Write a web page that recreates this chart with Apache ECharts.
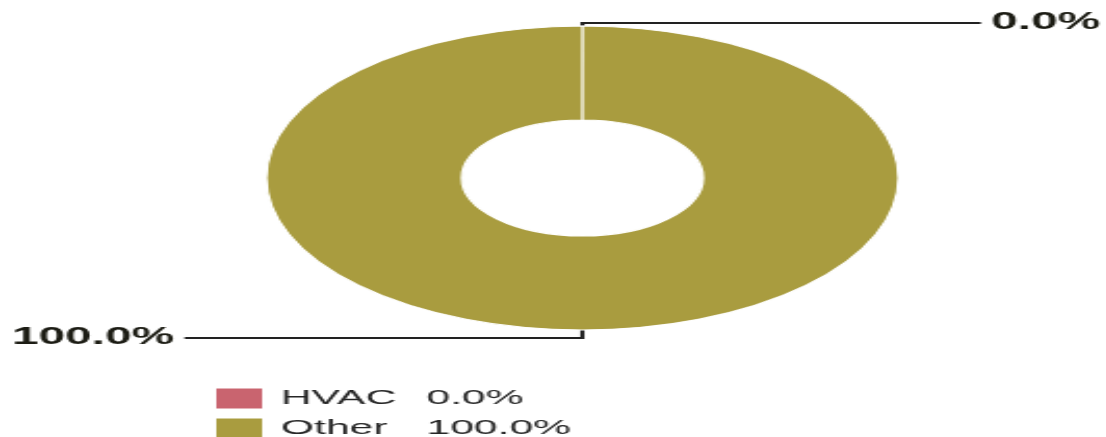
<!DOCTYPE html>
<html>
<head>
<meta charset="utf-8">
<script src="https://cdn.jsdelivr.net/npm/echarts@6/dist/echarts.min.js"></script>
<style>
  html, body { margin: 0; padding: 0; background: #ffffff; overflow: hidden; }
  #wrap { width: 1106px; height: 437px; overflow: hidden; position: relative; }
  #chart { width: 531.7px; height: 437px; transform: scaleX(2.08); transform-origin: 0 0; }
</style>
</head>
<body>
<div id="wrap"><div id="chart"></div></div>
<script>
const categories = ['HVAC', 'Other'];
const values = [0, 100];
const colors = ['#c9646f', '#a99c3f'];

const total = values.reduce((a, b) => a + b, 0);
const pct = v => (total ? (v / total * 100) : 0).toFixed(1) + '%';

const chart = echarts.init(document.getElementById('chart'), null, { renderer: 'canvas' });

const data = categories.map((name, i) => ({
  name: name,
  value: values[i],
  itemStyle: { color: colors[i], borderColor: '#ffffff', borderWidth: 1.2 },
  label: { edgeDistance: i === 0 ? 3 : 5.7 },
  labelLine: { length: i === 0 ? 3 : 8 }
}));

chart.setOption({
  animation: false,
  backgroundColor: '#ffffff',
  legend: {
    orient: 'vertical',
    left: 104,
    top: 388,
    height: 90,
    padding: 0,
    itemWidth: 22,
    itemHeight: 20,
    itemGap: 9,
    icon: 'rect',
    selectedMode: false,
    data: categories.map((name, i) => ({ name: name, itemStyle: { color: colors[i], borderWidth: 0 } })),
    formatter: name => {
      const i = categories.indexOf(name);
      return '{n|' + name + '}{v|' + pct(values[i]) + '}';
    },
    textStyle: {
      fontFamily: 'Liberation Sans, Arial, sans-serif',
      fontSize: 20.5,
      color: '#262626',
      rich: {
        n: { width: 70, padding: [0, 0, 0, 4], fontSize: 20.5, lineHeight: 20, color: '#262626', fontFamily: 'Liberation Sans, Arial, sans-serif' },
        v: { fontSize: 20.5, lineHeight: 20, color: '#262626', fontFamily: 'Liberation Sans, Arial, sans-serif' }
      }
    }
  },
  series: [{
    type: 'pie',
    center: [280, 178],
    radius: [58, 152],
    startAngle: 89.99,
    clockwise: true,
    minAngle: 0.01,
    avoidLabelOverlap: true,
    emphasis: { disabled: true },
    label: {
      show: true,
      position: 'outside',
      alignTo: 'edge',
      edgeDistance: 5,
      distanceToLabelLine: 5,
      formatter: p => pct(p.value),
      fontFamily: 'Liberation Sans, Arial, sans-serif',
      fontWeight: 'bold',
      fontSize: 23,
      color: '#1c1c14'
    },
    labelLine: {
      show: true,
      length: 5,
      length2: 10,
      smooth: false,
      lineStyle: { color: '#222222', width: 2 }
    },
    data: data
  }]
});
</script>
</body>
</html>
